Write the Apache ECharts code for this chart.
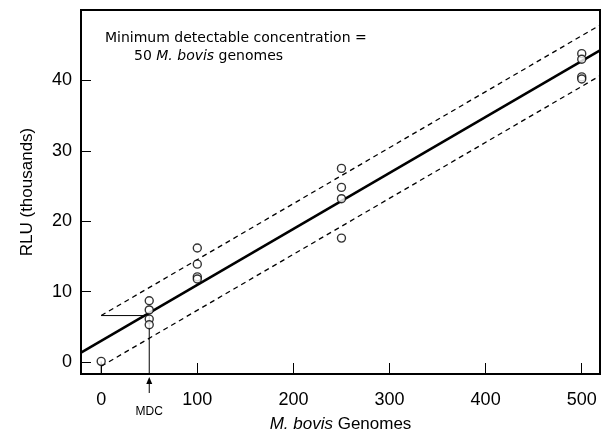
<!DOCTYPE html>
<html>
<head>
<meta charset="utf-8">
<script src="https://cdn.jsdelivr.net/npm/echarts@6/dist/echarts.min.js"></script>
<style>html,body{margin:0;padding:0;background:#fff}#c{width:610px;height:438px}</style>
</head>
<body>
<div id="c"></div>
<script>
// ---- data ----
const xTicks = [0, 100, 200, 300, 400, 500];
const yTicks = [0, 10, 20, 30, 40];
const genomes = [0, 50, 50, 50, 50, 100, 100, 100, 100, 250, 250, 250, 250, 500, 500, 500, 500];
const rlu = [0.1, 8.7, 7.4, 6.1, 5.3, 16.2, 13.9, 12.1, 11.8, 27.5, 24.8, 23.2, 17.6, 43.8, 43.0, 40.5, 40.2];
const fitCoef = [3.0, 0.0795];          // intercept, slope (thousands RLU per genome)
const bandOffset = [3.6];                // half-width of dashed band
const mdcPoint = [50, 6.6];              // MDC genomes, RLU
const xRange = [-21, 519];
const yRange = [-1.7, 50];

const fit = x => fitCoef[0] + fitCoef[1] * x;
const FONT = '"Liberation Sans", Arial, sans-serif';

const chart = echarts.init(document.getElementById('c'), null, {renderer: 'canvas'});
const option = {
  animation: false,
  backgroundColor: '#fff',
  grid: {left: 81, right: 10, top: 10, bottom: 56, show: true, borderColor: '#000', borderWidth: 2, backgroundColor: 'transparent'},
  xAxis: {
    type: 'value', min: xRange[0], max: xRange[1],
    axisLine: {show: true, onZero: false, lineStyle: {color: '#000', width: 2}},
    axisTick: {show: true, inside: true, length: 11, customValues: xTicks, lineStyle: {color: '#000', width: 1}},
    axisLabel: {customValues: xTicks, color: '#000', fontSize: 18, fontFamily: FONT, margin: 17},
    splitLine: {show: false},
    name: '{i|M. bovis} Genomes', nameLocation: 'middle', nameGap: 42,
    nameTextStyle: {color: '#000', fontSize: 17, fontFamily: FONT,
      rich: {i: {fontStyle: 'italic', fontSize: 17, fontFamily: FONT, color: '#000'}}}
  },
  yAxis: {
    type: 'value', min: yRange[0], max: yRange[1],
    axisLine: {show: true, onZero: false, lineStyle: {color: '#000', width: 2}},
    axisTick: {show: true, inside: true, length: 10, customValues: yTicks, lineStyle: {color: '#000', width: 1}},
    axisLabel: {customValues: yTicks, color: '#000', fontSize: 18, fontFamily: FONT, margin: 9},
    splitLine: {show: false},
    name: 'RLU (thousands)', nameLocation: 'middle', nameGap: 45,
    nameTextStyle: {color: '#000', fontSize: 17, fontFamily: FONT}
  },
  series: [
    {type: 'line', data: xRange.map(x => [x, fit(x)]), symbol: 'none', lineStyle: {color: '#000', width: 2.5}, z: 3},
    {type: 'line', data: [0, xRange[1]].map(x => [x, fit(x) + bandOffset[0]]), symbol: 'none', lineStyle: {color: '#000', width: 1.3, type: [5, 4]}, z: 3},
    {type: 'line', data: [0, xRange[1]].map(x => [x, fit(x) - bandOffset[0]]), symbol: 'none', lineStyle: {color: '#000', width: 1.3, type: [5, 4]}, z: 3},
    {type: 'line', data: [[0, mdcPoint[1]], [mdcPoint[0], mdcPoint[1]], [mdcPoint[0], yRange[0]]], symbol: 'none', lineStyle: {color: '#000', width: 1}, z: 3},
    {type: 'line', data: [[genomes[0], rlu[0]], [genomes[0], yRange[0]]], symbol: 'none', lineStyle: {color: '#000', width: 1}, z: 3},
    {type: 'scatter', data: genomes.map((g, i) => [g, rlu[i]]), symbol: 'circle', symbolSize: 8,
      itemStyle: {color: '#fff', borderColor: '#000', borderWidth: 1.4}, z: 5}
  ]
};
chart.setOption(option);

const ax = chart.convertToPixel({xAxisIndex: 0}, mdcPoint[0]);
const ay = chart.convertToPixel({yAxisIndex: 0}, yRange[0]);
chart.setOption({
  graphic: [
    {type: 'text', left: 105, top: 31, style: {text: 'Minimum detectable concentration =', font: '14px "DejaVu Sans", sans-serif', fill: '#000'}},
    {type: 'text', left: 134, top: 49, style: {text: '50 {i|M. bovis} genomes', font: '14px "DejaVu Sans", sans-serif', fill: '#000',
      rich: {i: {fontStyle: 'italic', fontSize: 14, fontFamily: '"DejaVu Sans", sans-serif', fill: '#000'}}}},
    {type: 'line', shape: {x1: ax, y1: ay + 8, x2: ax, y2: ay + 19}, style: {stroke: '#000', lineWidth: 1}},
    {type: 'polygon', shape: {points: [[ax, ay + 3], [ax - 3, ay + 10], [ax + 3, ay + 10]]}, style: {fill: '#000'}},
    {type: 'text', x: ax, y: ay + 38, style: {text: 'MDC', font: '12px "Liberation Sans", Arial, sans-serif', fill: '#000', align: 'center', verticalAlign: 'middle'}}
  ]
});
</script>
</body>
</html>
